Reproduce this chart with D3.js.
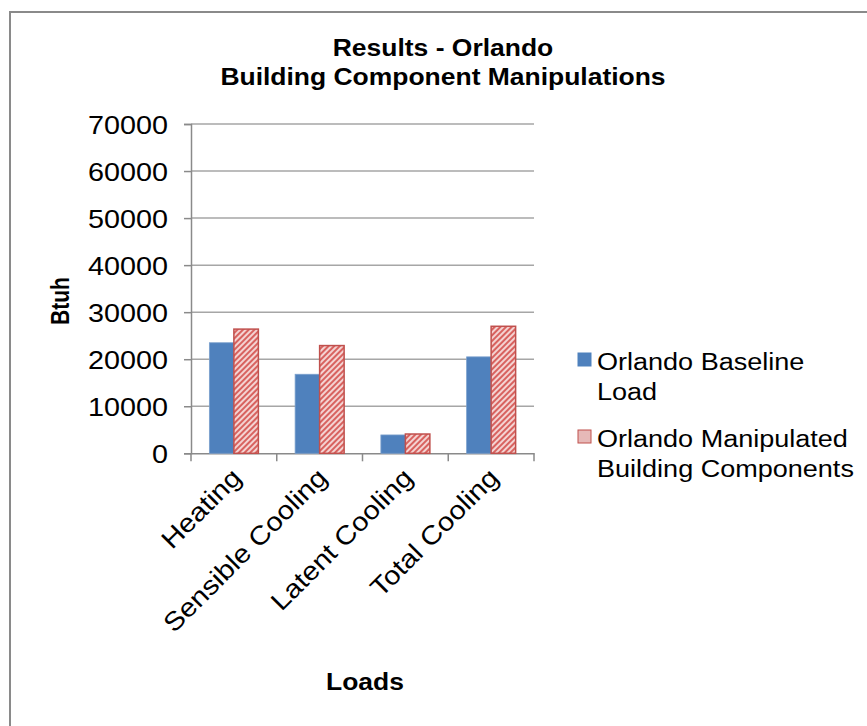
<!DOCTYPE html>
<html><head><meta charset="utf-8">
<script src="https://cdn.jsdelivr.net/npm/d3@7"></script>
<style>body{margin:0;background:#fff}svg{display:block}text{font-family:"Liberation Sans",Arial,sans-serif}</style>
</head><body>
<svg id="c" width="867" height="726"></svg>
<script>
const categories = ["Heating","Sensible Cooling","Latent Cooling","Total Cooling"];
const seriesNames = ["Orlando Baseline Load","Orlando Manipulated Building Components"];
const baseline = [23500,16800,3900,20500];
const manipulated = [26400,22900,4100,27000];
const yTicks = [0,10000,20000,30000,40000,50000,60000,70000];
const titleLines = ["Results - Orlando","Building Component Manipulations"];
const yTitle = "Btuh", xTitle = "Loads";

const svg = d3.select("#c");
const defs = svg.append("defs");
const pat = defs.append("pattern").attr("id","hatch").attr("patternUnits","userSpaceOnUse")
  .attr("width",4).attr("height",4).attr("patternTransform","rotate(45)");
pat.append("rect").attr("width",4).attr("height",4).attr("fill","#F4D3D2");
pat.append("rect").attr("width",2).attr("height",4).attr("fill","#D8625F");

function stretch(sel, k){
  sel.each(function(){ const L=this.getComputedTextLength(); d3.select(this).attr("textLength",L*k).attr("lengthAdjust","spacingAndGlyphs"); });
}

// frame
svg.append("rect").attr("x",10).attr("y",12).attr("width",900).attr("height",760)
  .attr("fill","none").attr("stroke","#8a8a8a").attr("stroke-width",2);

const m = {left:191,right:534,top:124,bottom:453.3};
const x0 = d3.scaleBand().domain(categories).range([m.left,m.right]).paddingInner(0).paddingOuter(0);
const y = d3.scaleLinear().domain([0,70000]).range([m.bottom,m.top]);

// gridlines
svg.append("g").selectAll("line").data(yTicks.slice(1)).join("line")
  .attr("x1",m.left).attr("x2",m.right).attr("y1",d=>y(d)).attr("y2",d=>y(d))
  .attr("stroke","#A6A6A6").attr("stroke-width",1.5);

// y axis
const ya = svg.append("g").attr("transform",`translate(${m.left},0)`)
  .call(d3.axisLeft(y).tickValues(yTicks).tickSize(7).tickPadding(16).tickFormat(d3.format("d")));
ya.select(".domain").attr("stroke","#8a8a8a").attr("stroke-width",1.5);
ya.selectAll(".tick line").attr("stroke","#8a8a8a").attr("stroke-width",1.5);
ya.selectAll("text").attr("font-size",25).attr("fill","#000").style("font-family","Liberation Sans, Arial, sans-serif")
  .attr("dy","0.36em");
stretch(ya.selectAll("text"),1.15);

// x axis
const xa = svg.append("g").attr("transform",`translate(0,${m.bottom})`)
  .call(d3.axisBottom(x0).tickSize(0).tickFormat(""));
xa.select(".domain").attr("stroke","#8a8a8a").attr("stroke-width",1.5);
svg.append("g").selectAll("line").data(d3.range(categories.length+1)).join("line")
  .attr("x1",i=>m.left+i*x0.step()).attr("x2",i=>m.left+i*x0.step())
  .attr("y1",m.bottom).attr("y2",m.bottom+8).attr("stroke","#8a8a8a").attr("stroke-width",1.5);

// bars
const bw = x0.bandwidth()/3.5;
const g = svg.append("g");
categories.forEach((c,i)=>{
  const cx = x0(c)+x0.bandwidth()/2;
  g.append("rect").attr("x",cx-bw).attr("width",bw).attr("y",y(baseline[i])).attr("height",y(0)-y(baseline[i]))
    .attr("fill","#4F81BD").attr("stroke","#7BA0CD").attr("stroke-width",0.8);
  g.append("rect").attr("x",cx).attr("width",bw).attr("y",y(manipulated[i])).attr("height",y(0)-y(manipulated[i]))
    .attr("fill","url(#hatch)").attr("stroke","#C0504D").attr("stroke-width",1.5);
});

// x labels
const xl = svg.append("g").selectAll("text").data(categories).join("text")
  .attr("transform",d=>`translate(${x0(d)+x0.bandwidth()/2+9},${m.bottom+26}) rotate(-45)`)
  .attr("text-anchor","end").attr("font-size",26).text(d=>d);
stretch(xl,1.12);

// titles
const tl = svg.append("g").selectAll("text").data(titleLines).join("text")
  .attr("x",443).attr("y",(d,i)=>56+i*29).attr("text-anchor","middle")
  .attr("font-size",23).attr("font-weight","bold").text(d=>d);
stretch(tl,1.15);
svg.append("g").attr("transform","translate(69,301) scale(1.2,1) rotate(-90)")
  .append("text").attr("text-anchor","middle")
  .attr("font-size",21).attr("font-weight","bold").text(yTitle);
const lt = svg.append("text").attr("x",365).attr("y",690).attr("text-anchor","middle")
  .attr("font-size",23).attr("font-weight","bold").text(xTitle);
stretch(lt,1.15);

// legend
const legLines = [["Orlando Baseline","Load"],["Orlando Manipulated","Building Components"]];
const leg = svg.append("g");
legLines.forEach((ls,i)=>{
  const ly = 370 + i*77;
  leg.append("rect").attr("x",578).attr("y",ly-17).attr("width",13).attr("height",13)
    .attr("fill", i===0?"#4F81BD":"#E6B9B8").attr("stroke", i===0?"#4F81BD":"#C0504D").attr("stroke-width",1);
  ls.forEach((t,j)=>{ const tt = leg.append("text").attr("x",597).attr("y",ly+j*30).attr("font-size",23.5).text(t); stretch(tt,1.15); });
});
</script>
</body></html>
